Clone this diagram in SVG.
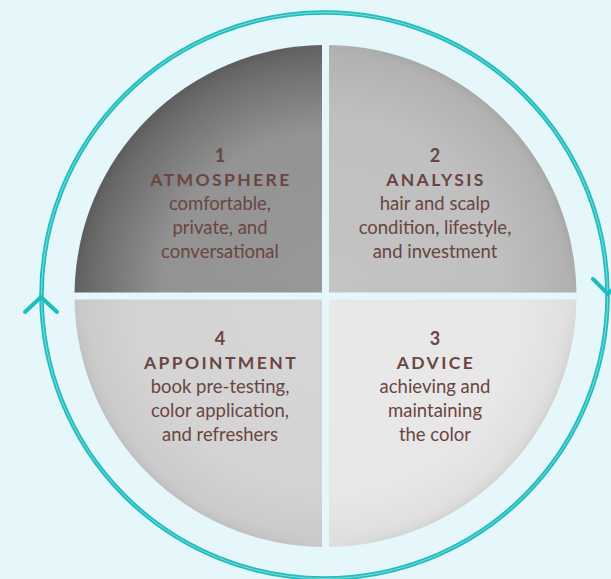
<svg xmlns="http://www.w3.org/2000/svg" width="611" height="579" viewBox="0 0 611 579">
<defs>
<style>
.t{font-family:Lato,"Liberation Sans",sans-serif;fill:#6a4541;text-anchor:middle}
.n{font-size:18px;font-weight:bold}
.h{font-size:17.5px;font-weight:bold;letter-spacing:2.4px}
.b{font-size:18.5px}
.ring{fill:none;stroke:#1dbdc0;stroke-width:4.5}
.ringIn{fill:none;stroke:#86d9da;stroke-width:1}
.arr{fill:none;stroke:#1dbdc0;stroke-width:4;stroke-linecap:round;stroke-linejoin:round}
</style>
<radialGradient id="g1" gradientUnits="userSpaceOnUse" cx="325.5" cy="296" r="251">
<stop offset="0" stop-color="#999999"/><stop offset="0.65" stop-color="#939393"/><stop offset="1" stop-color="#626262"/>
</radialGradient>
<radialGradient id="g2" gradientUnits="userSpaceOnUse" cx="325.5" cy="296" r="251">
<stop offset="0" stop-color="#c4c4c4"/><stop offset="0.7" stop-color="#c0c0c0"/><stop offset="1" stop-color="#b0b0b0"/>
</radialGradient>
<radialGradient id="g4" gradientUnits="userSpaceOnUse" cx="325.5" cy="296" r="251">
<stop offset="0" stop-color="#d6d6d6"/><stop offset="0.75" stop-color="#d4d4d4"/><stop offset="1" stop-color="#c9c9c9"/>
</radialGradient>
<radialGradient id="g3" gradientUnits="userSpaceOnUse" cx="325.5" cy="296" r="251">
<stop offset="0" stop-color="#e9e9e9"/><stop offset="0.8" stop-color="#e7e7e7"/><stop offset="1" stop-color="#dedede"/>
</radialGradient>
<filter id="inner" x="0" y="0" width="1" height="1">
<feFlood flood-color="#000" flood-opacity="0.22"/>
<feComposite in2="SourceAlpha" operator="out"/>
<feGaussianBlur stdDeviation="6"/>
<feComposite in2="SourceAlpha" operator="in" result="sh"/>
<feMerge><feMergeNode in="SourceGraphic"/><feMergeNode in="sh"/></feMerge>
</filter>
</defs>
<rect width="611" height="579" fill="#e5f7fa"/>
<g id="connectors">
<circle class="ring" cx="324.5" cy="295.5" r="283"/>
<circle class="ringIn" cx="324.5" cy="295.5" r="283"/>
<polyline class="arr" points="25,312 41,297 57,312"/>
<polyline class="arr" points="593,279 608,294 623,279"/>
</g>
<g id="node1">
<path d="M322,292.5 L74.5,292.5 A251,251 0 0 1 322,45 Z" fill="url(#g1)" filter="url(#inner)"/>
<text class="t n" x="220" y="162">1</text>
<text class="t h" x="221" y="186">ATMOSPHERE</text>
<text class="t b" x="220" y="210">comfortable,</text>
<text class="t b" x="220" y="234">private, and</text>
<text class="t b" x="220" y="258">conversational</text>
</g>
<g id="node2">
<path d="M329,292.5 L329,45 A251,251 0 0 1 576.5,292.5 Z" fill="url(#g2)" filter="url(#inner)"/>
<text class="t n" x="435" y="162">2</text>
<text class="t h" x="436" y="186">ANALYSIS</text>
<text class="t b" x="435" y="210">hair and scalp</text>
<text class="t b" x="435" y="234">condition, lifestyle,</text>
<text class="t b" x="435" y="258">and investment</text>
</g>
<g id="node3">
<path d="M329,299.5 L576.5,299.5 A251,251 0 0 1 329,547 Z" fill="url(#g3)" filter="url(#inner)"/>
<text class="t n" x="435" y="345">3</text>
<text class="t h" x="436" y="369">ADVICE</text>
<text class="t b" x="435" y="393">achieving and</text>
<text class="t b" x="435" y="417">maintaining</text>
<text class="t b" x="435" y="441">the color</text>
</g>
<g id="node4">
<path d="M322,299.5 L322,547 A251,251 0 0 1 74.5,299.5 Z" fill="url(#g4)" filter="url(#inner)"/>
<text class="t n" x="220" y="345">4</text>
<text class="t h" x="221" y="369">APPOINTMENT</text>
<text class="t b" x="220" y="393">book pre-testing,</text>
<text class="t b" x="220" y="417">color application,</text>
<text class="t b" x="220" y="441">and refreshers</text>
</g>
</svg>
